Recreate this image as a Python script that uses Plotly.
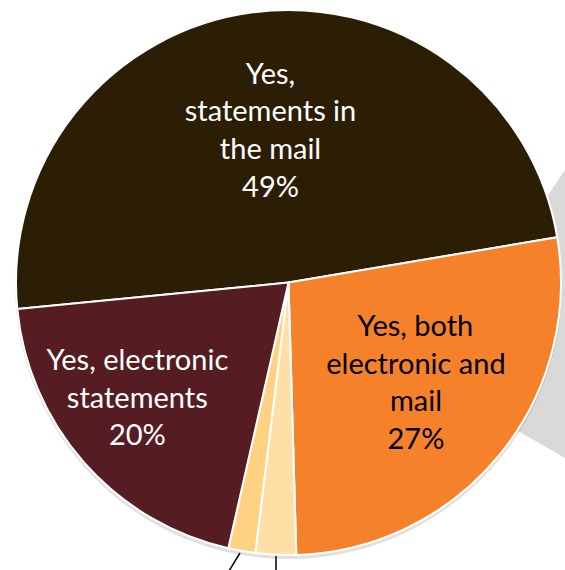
import plotly.graph_objects as go

W, H = 565, 570

labels = ["Yes, statements in the mail", "Yes, both electronic and mail",
          "Small slice A", "Small slice B", "Yes, electronic statements"]
label_lines = [["Yes,", "statements in", "the mail"],
               ["Yes, both", "electronic and", "mail"],
               [], [],
               ["Yes, electronic", "statements"]]
values = [48.9, 27.2, 2.4, 1.6, 19.9]
colors = ["#2C1E04", "#F5822A", "#FFDFA6", "#FFD182", "#551C22"]
text_colors = ["#FFFFFF", "#000000", "#000000", "#000000", "#FFFFFF"]

# horizontal nudges (non-breaking spaces before / after each line) and an extra blank line
pad_before = [0, 2, 0, 0, 0]
pad_after = [0, 0, 0, 0, 6]
extra_blank = [True, False, False, False, False]

templates = []
for lines, pb, pa, eb in zip(label_lines, pad_before, pad_after, extra_blank):
    if not lines:
        templates.append("")
        continue
    all_lines = lines + ["%{percent:.0%}"]
    t = "<br>".join("&nbsp;" * pb + ln + "&nbsp;" * pa for ln in all_lines)
    if eb:
        t += "<br>&nbsp;"
    templates.append(t)


def px(x, y):
    return x / W, 1 - y / H


# pie bounding box in pixels
left, top, right, bottom = 16, 10, 561, 555

fig = go.Figure()
fig.add_trace(go.Pie(
    labels=labels, values=values, texttemplate=templates,
    sort=False, direction="clockwise", rotation=264.4,
    marker=dict(colors=colors, line=dict(color="#FFFFFF", width=2)),
    textposition="inside", insidetextorientation="horizontal",
    insidetextfont=dict(family="Lato", size=29, color=text_colors),
    domain=dict(x=[left / W, right / W], y=[1 - bottom / H, 1 - top / H]),
    showlegend=False, hoverinfo="label+percent",
))

# grey connector wedge (to secondary chart) behind the pie
pts = [(520, 236), (565, 170), (565, 458), (480, 409)]
path = "M " + " L ".join(f"{px(a, b)[0]},{px(a, b)[1]}" for a, b in pts) + " Z"
shapes = [dict(type="path", path=path, xref="paper", yref="paper",
               fillcolor="#D9D9D9", line=dict(width=0), layer="below")]
# soft shadow under the pie
cx0, cy0 = px(left - 1, top + 1)
cx1, cy1 = px(right + 1, bottom + 4)
shapes.append(dict(type="circle", xref="paper", yref="paper", x0=cx0, y0=cy1, x1=cx1, y1=cy0,
                   fillcolor="rgba(0,0,0,0.12)", line=dict(width=0), layer="below"))
# leader lines of the small slices' labels (labels off-canvas)
for (a, b), (c, d) in [((240, 553), (229, 571)), ((276, 556), (276, 571))]:
    x0, y0 = px(a, b)
    x1, y1 = px(c, d)
    shapes.append(dict(type="line", xref="paper", yref="paper", x0=x0, y0=y0, x1=x1, y1=y1,
                       line=dict(color="#000000", width=1.5)))

fig.update_layout(
    width=W, height=H, margin=dict(l=0, r=0, t=0, b=0),
    paper_bgcolor="#FFFFFF", plot_bgcolor="#FFFFFF",
    shapes=shapes,
    uniformtext=dict(mode="show", minsize=29),
)

fig.write_html("out.html")
